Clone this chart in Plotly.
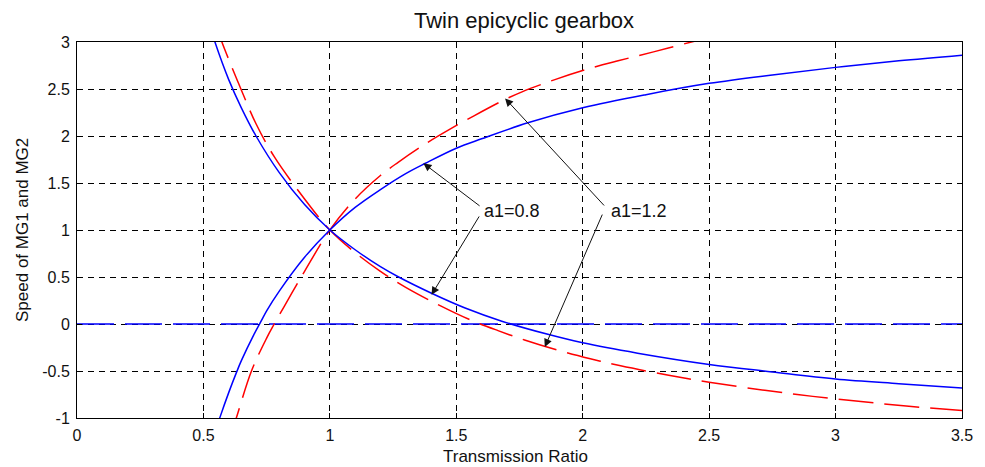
import plotly.graph_objects as go

# ---- data ----
x_ticks = [0, 0.5, 1, 1.5, 2, 2.5, 3, 3.5]
x_tick_labels = ["0", "0.5", "1", "1.5", "2", "2.5", "3", "3.5"]
y_ticks = [-1, -0.5, 0, 0.5, 1, 1.5, 2, 2.5, 3]
y_tick_labels = ["-1", "-0.5", "0", "0.5", "1", "1.5", "2", "2.5", "3"]

# a1 = 0.8 (blue, solid) rising branch
blue_up_x = [0.55, 0.567, 0.60, 0.63, 0.65, 0.70, 0.728, 0.75, 0.80, 0.90, 1.00, 1.10, 1.20, 1.30,
             1.378, 1.50, 1.60, 1.783, 2.00, 2.25, 2.50, 2.75, 3.00, 3.25, 3.50]
blue_up_y = [-1.12, -0.98, -0.73, -0.52, -0.39, -0.11, 0.03, 0.14, 0.35, 0.71, 1.00, 1.24, 1.43, 1.60,
             1.71, 1.87, 1.97, 2.14, 2.30, 2.44, 2.56, 2.65, 2.73, 2.80, 2.86]

# a1 = 0.8 (blue, solid) falling branch
blue_dn_x = [0.52, 0.543, 0.60, 0.65, 0.708, 0.80, 0.90, 1.00, 1.10, 1.20, 1.272, 1.40, 1.535, 1.68,
             1.862, 2.00, 2.217, 2.50, 2.75, 3.00, 3.25, 3.50]
blue_dn_y = [3.22, 3.02, 2.60, 2.30, 2.00, 1.61, 1.27, 1.00, 0.79, 0.61, 0.50, 0.33, 0.17, 0.03,
             -0.11, -0.20, -0.31, -0.43, -0.51, -0.585, -0.635, -0.68]

# a1 = 1.2 (red, dashed) rising branch
red_up_x = [0.60, 0.63, 0.69, 0.75, 0.78, 0.85, 0.90, 1.00, 1.10, 1.20, 1.27, 1.38, 1.47, 1.57,
            1.69, 1.76, 1.89, 2.01, 2.14, 2.28, 2.43, 2.55]
red_up_y = [-1.25, -1.00, -0.50, -0.15, 0.00, 0.33, 0.56, 1.00, 1.33, 1.58, 1.72, 1.92, 2.065, 2.215,
            2.385, 2.47, 2.60, 2.705, 2.80, 2.895, 3.00, 3.08]

# a1 = 1.2 (red, dashed) falling branch
red_dn_x = [0.55, 0.573, 0.628, 0.642, 0.708, 0.78, 0.90, 1.00, 1.10, 1.20, 1.30, 1.44, 1.55, 1.665,
            1.77, 1.91, 2.03, 2.15, 2.34, 2.50, 2.72, 2.91, 3.10, 3.29, 3.50]
red_dn_y = [3.18, 3.00, 2.63, 2.54, 2.13, 1.78, 1.33, 1.00, 0.76, 0.56, 0.39, 0.19, 0.05, -0.07,
            -0.17, -0.285, -0.37, -0.445, -0.545, -0.62, -0.705, -0.77, -0.825, -0.875, -0.92]

# zero-speed line (blue, long dashes)
zero_x = [0, 3.5]
zero_y = [0, 0]

# annotation labels and arrows: (tip x, tip y, tail x, tail y)
labels = [("a1=0.8", 1.60, 1.20), ("a1=1.2", 2.105, 1.20)]
arrows = [(1.370, 1.71, 1.598, 1.245),
          (1.402, 0.31, 1.594, 1.16),
          (1.693, 2.40, 2.09, 1.245),
          (1.850, -0.245, 2.08, 1.18)]

FONT = "Liberation Sans, Arial, Helvetica, sans-serif"

fig = go.Figure()
fig.add_trace(go.Scatter(x=zero_x, y=zero_y, mode="lines",
                         line=dict(color="#0000ff", width=1.5, dash="37px,11px")))
fig.add_trace(go.Scatter(x=red_up_x, y=red_up_y, mode="lines",
                         line=dict(color="#ff0000", width=1.5, dash="35px,11px", shape="spline")))
fig.add_trace(go.Scatter(x=red_dn_x, y=red_dn_y, mode="lines",
                         line=dict(color="#ff0000", width=1.5, dash="35px,11px", shape="spline")))
fig.add_trace(go.Scatter(x=blue_up_x, y=blue_up_y, mode="lines",
                         line=dict(color="#0000ff", width=1.5, shape="spline")))
fig.add_trace(go.Scatter(x=blue_dn_x, y=blue_dn_y, mode="lines",
                         line=dict(color="#0000ff", width=1.5, shape="spline")))

annotations = []
for text, lx, ly in labels:
    annotations.append(dict(x=lx, y=ly, xref="x", yref="y", text=text, showarrow=False,
                            xanchor="left", yanchor="middle",
                            font=dict(family=FONT, size=18, color="#111111")))
for tx, ty, sx, sy in arrows:
    annotations.append(dict(x=tx, y=ty, xref="x", yref="y", ax=sx, ay=sy, axref="x", ayref="y",
                            text="", showarrow=True, arrowhead=2, arrowsize=1.6, arrowwidth=1,
                            arrowcolor="#111111"))
annotations.append(dict(x=0.5, y=1, xref="paper", yref="paper", xshift=4, yshift=22,
                        text="Twin epicyclic gearbox", showarrow=False,
                        xanchor="center", yanchor="middle",
                        font=dict(family=FONT, size=22, color="#111111")))
annotations.append(dict(x=0.5, y=0, xref="paper", yref="paper", xshift=-4, yshift=-38,
                        text="Transmission Ratio", showarrow=False,
                        xanchor="center", yanchor="middle",
                        font=dict(family=FONT, size=17, color="#111111")))
annotations.append(dict(x=0, y=0.5, xref="paper", yref="paper", xshift=-55,
                        text="Speed of MG1 and MG2", showarrow=False, textangle=-90,
                        xanchor="center", yanchor="middle",
                        font=dict(family=FONT, size=17, color="#111111")))

axis_common = dict(showline=True, linecolor="#000000", linewidth=1, mirror="ticks",
                   ticks="inside", ticklen=5, tickwidth=1, tickcolor="#000000",
                   showgrid=True, gridcolor="#000000", gridwidth=1, griddash="6px,5px",
                   zeroline=False, tickfont=dict(family=FONT, size=16, color="#111111"))

fig.update_layout(
    width=985, height=467,
    margin=dict(l=77, r=19, t=42, b=49),
    paper_bgcolor="white", plot_bgcolor="white",
    showlegend=False,
    xaxis=dict(range=[0, 3.5], tickvals=x_ticks, ticktext=x_tick_labels,
               ticklabelstandoff=3, **axis_common),
    yaxis=dict(range=[-1, 3], tickvals=y_ticks, ticktext=y_tick_labels,
               ticklabelstandoff=3, **axis_common),
    annotations=annotations,
)

fig.write_html("out.html", config={"displayModeBar": False},
               post_script="document.body.style.margin='0';document.body.style.overflow='hidden';")
